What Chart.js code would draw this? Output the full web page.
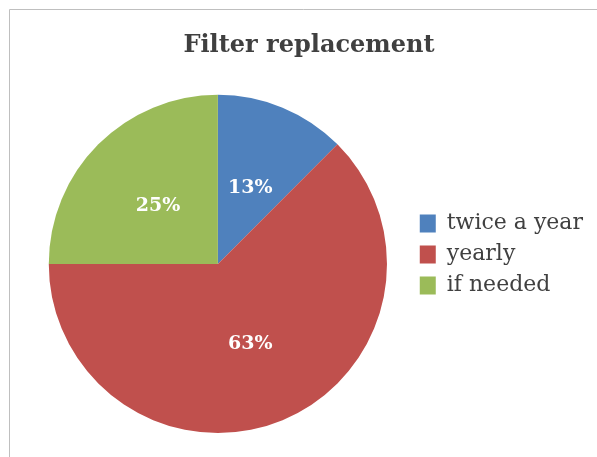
<!DOCTYPE html>
<html>
<head>
<meta charset="utf-8">
<script src="https://cdn.jsdelivr.net/npm/chart.js@4/dist/chart.umd.min.js"></script>
<style>
  html, body { margin: 0; padding: 0; background: #fff; }
  #wrap { width: 597px; height: 457px; position: relative; }
</style>
</head>
<body>
<div id="wrap"><canvas id="myChart"></canvas></div>
<script>
// chart data
const categories = ['twice a year', 'yearly', 'if needed'];
const shares = [12.5, 62.5, 25];
const sliceColors = ['#4F81BD', '#C0504D', '#9BBB59'];
const chartTitle = 'Filter replacement';

// thin grey frame (only top + left visible in the crop)
const framePlugin = {
    id: 'frame',
    beforeDraw(chart) {
        const c = chart.ctx;
        c.save();
        c.strokeStyle = '#BFBFBF';
        c.lineWidth = 1;
        c.beginPath();
        c.moveTo(9.5, chart.height + 5);
        c.lineTo(9.5, 9.5);
        c.lineTo(chart.width + 5, 9.5);
        c.stroke();
        c.restore();
    }
};

// percentage labels in the middle of each slice
const pctLabels = {
    id: 'pctLabels',
    afterDatasetsDraw(chart) {
        const c = chart.ctx;
        const meta = chart.getDatasetMeta(0);
        const data = chart.data.datasets[0].data;
        const total = data.reduce((a, b) => a + b, 0);
        c.save();
        c.fillStyle = '#fff';
        c.font = 'bold 19px "DejaVu Serif"';
        c.textAlign = 'center';
        c.textBaseline = 'middle';
        meta.data.forEach((arc, i) => {
            const p = arc.tooltipPosition();
            c.fillText(Math.round(data[i] / total * 100) + '%', p.x, p.y + 2);
        });
        c.restore();
    }
};

const ctx = document.getElementById('myChart').getContext('2d');
const myChart = new Chart(ctx, {
    type: 'pie',
    data: {
        labels: categories,
        datasets: [{
            data: shares,
            backgroundColor: sliceColors,
            borderWidth: 0
        }]
    },
    options: {
        responsive: true,
        maintainAspectRatio: false,
        animation: false,
        layout: {
            padding: {left: 25, right: 4, top: 0, bottom: 24}
        },
        plugins: {
            title: {
                display: true,
                text: chartTitle,
                color: '#404040',
                font: {family: 'DejaVu Serif', size: 24, weight: 'bold'},
                padding: {top: 31, bottom: 35}
            },
            legend: {
                position: 'right',
                // empty title only pushes the items down a bit
                title: {
                    display: true,
                    text: ' ',
                    font: {size: 10},
                    padding: {top: 32, bottom: 32}
                },
                labels: {
                    color: '#404040',
                    font: {family: 'DejaVu Serif', size: 22},
                    boxWidth: 16,
                    boxHeight: 18,
                    padding: 9
                }
            },
            tooltip: {enabled: false}
        }
    },
    plugins: [framePlugin, pctLabels]
});
</script>
</body>
</html>
